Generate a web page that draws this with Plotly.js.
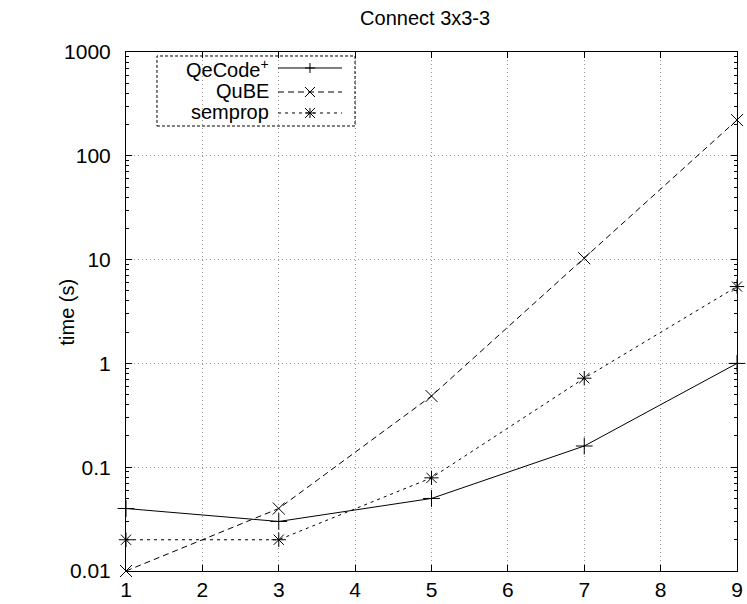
<!DOCTYPE html>
<html>
<head>
<meta charset="utf-8">
<script src="https://cdn.plot.ly/plotly-3.0.1.min.js"></script>
<style>html,body{margin:0;padding:0;background:#fff;}#chart{width:747px;height:604px;}</style>
</head>
<body>
<div id="chart"></div>
<script>
// Data
const sizes = [1, 3, 5, 7, 9];
const qecodeTimes = [0.04, 0.03, 0.05, 0.16, 1.0];
const qubeTimes = [0.01, 0.04, 0.485, 10.3, 221];
const sempropTimes = [0.02, 0.02, 0.079, 0.72, 5.5];
const seriesNames = ['QeCode<sup>+</sup>', 'QuBE', 'semprop'];
const yTickVals = [0.01, 0.1, 1, 10, 100, 1000];
const yTickText = ['0.01', '0.1', '1', '10', '100', '1000'];
const xTickVals = [1, 2, 3, 4, 5, 6, 7, 8, 9];

const FONT = 'Liberation Sans, Arial, Helvetica, sans-serif';

// minor log ticks 2..9 per decade
const minorVals = [];
for (let d = -2; d < 3; d++) {
  for (let m = 2; m <= 9; m++) minorVals.push(m * Math.pow(10, d));
}

const styles = [
  {dash: 'solid', symbol: 'cross-thin'},
  {dash: '6px,4px', symbol: 'x-thin'},
  {dash: '3px,4px', symbol: 'asterisk'}
];
const series = [qecodeTimes, qubeTimes, sempropTimes];

const traces = series.map((ys, i) => ({
  x: sizes, y: ys, type: 'scatter', mode: 'lines+markers',
  name: seriesNames[i], showlegend: false, cliponaxis: false,
  line: {color: '#000', width: 1, dash: styles[i].dash},
  marker: {symbol: styles[i].symbol, size: 12, color: '#000',
           line: {color: '#000', width: 1}}
}));

// custom gnuplot-style key
const rowY = [0.9692, 0.9229, 0.8825];
const rowH = [27, 20, 20];
const textX = 0.237, lx0 = 0.2488, lx1 = 0.3535, mx = 0.3011;
const shapes = [{
  type: 'rect', xref: 'paper', yref: 'paper',
  x0: 0.0507, x1: 0.3748, y0: 0.8574, y1: 0.9923,
  line: {color: '#000', width: 1, dash: '3px,2px'}, fillcolor: 'rgba(0,0,0,0)'
}];
const annotations = [];
rowY.forEach((ry, i) => {
  annotations.push({xref: 'paper', yref: 'paper', x: textX, y: ry, xanchor: 'right',
    yanchor: 'middle', valign: 'bottom', text: seriesNames[i], showarrow: false, height: rowH[i],
    font: {family: FONT, size: 20, color: '#000'}});
  shapes.push({type: 'line', xref: 'paper', yref: 'paper', x0: lx0, x1: lx1, y0: ry, y1: ry,
    line: {color: '#000', width: 1, dash: styles[i].dash}});
  const segs = [];
  if (i === 0 || i === 2) { segs.push([-5, 0, 5, 0], [0, -5, 0, 5]); }
  if (i === 1 || i === 2) { segs.push([-5, -5, 5, 5], [-5, 5, 5, -5]); }
  segs.forEach(s => shapes.push({type: 'line', xref: 'paper', yref: 'paper',
    xsizemode: 'pixel', ysizemode: 'pixel', xanchor: mx, yanchor: ry,
    x0: s[0], y0: s[1], x1: s[2], y1: s[3], line: {color: '#000', width: 1}}));
});
annotations.push({xref: 'paper', yref: 'paper', x: -0.0966, y: 0.5, xanchor: 'center',
  yanchor: 'middle', textangle: -90, text: 'time (s)', showarrow: false,
  font: {family: FONT, size: 20, color: '#000'}});

const layout = {
  width: 747, height: 604,
  margin: {l: 126, r: 10, t: 52, b: 33},
  paper_bgcolor: '#fff', plot_bgcolor: '#fff',
  font: {family: FONT, size: 21, color: '#000'},
  title: {text: 'Connect 3x3-3', x: 0.5691, xanchor: 'center', y: 0.97, yanchor: 'middle',
          font: {family: FONT, size: 20, color: '#000'}},
  showlegend: false,
  xaxis: {
    range: [1, 9], tickvals: xTickVals, ticktext: xTickVals.map(String),
    showline: true, linecolor: '#000', linewidth: 1, mirror: 'ticks',
    ticks: 'inside', ticklen: 6, tickcolor: '#000', tickwidth: 1,
    showgrid: true, gridcolor: '#999', griddash: '1px,3px', gridwidth: 1,
    zeroline: false, tickfont: {family: FONT, size: 21, color: '#000'}
  },
  yaxis: {
    type: 'log', range: [-2, 3], tickvals: yTickVals, ticktext: yTickText,
    showline: true, linecolor: '#000', linewidth: 1, mirror: 'ticks',
    ticks: 'inside', ticklen: 6, tickcolor: '#000', tickwidth: 1,
    showgrid: true, gridcolor: '#999', griddash: '1px,3px', gridwidth: 1,
    zeroline: false, ticklabelstandoff: 10,
    tickfont: {family: FONT, size: 21, color: '#000'},
    minor: {tickvals: minorVals, ticks: 'inside', ticklen: 3, tickcolor: '#000', showgrid: false}
  },
  shapes: shapes,
  annotations: annotations
};

Plotly.newPlot('chart', traces, layout, {displayModeBar: false, staticPlot: true});
</script>
</body>
</html>
